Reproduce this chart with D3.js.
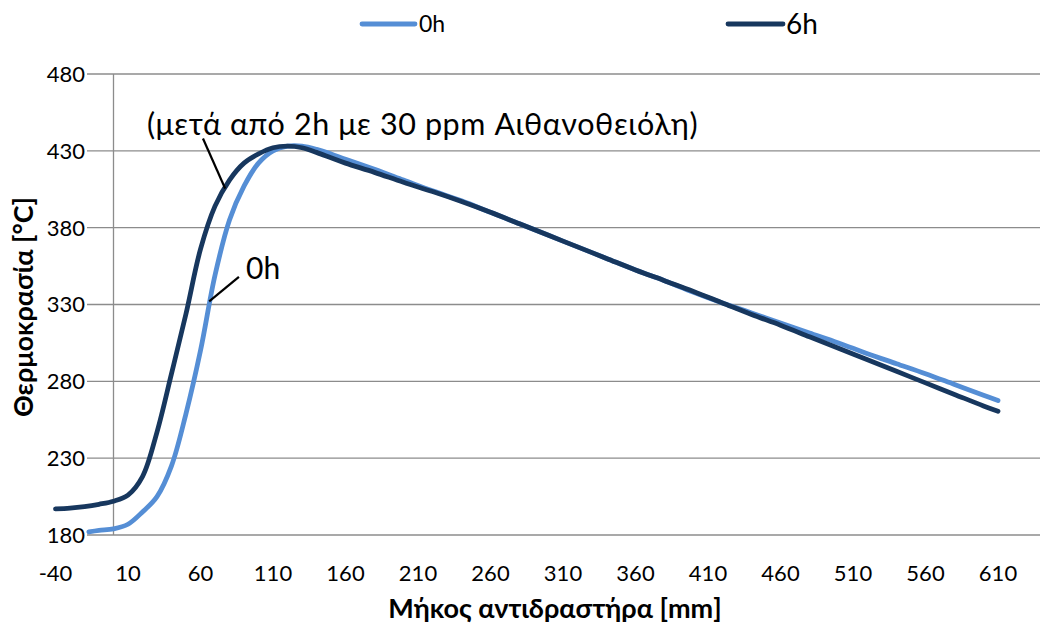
<!DOCTYPE html>
<html><head><meta charset="utf-8">
<script src="https://cdn.jsdelivr.net/npm/d3@7"></script>
<style>body{margin:0;background:#fff}svg{display:block}text{font-family:Lato,"Open Sans",sans-serif}</style>
</head><body><svg id="c" width="1041" height="626"></svg>
<script>
const xTicks = [-40,10,60,110,160,210,260,310,360,410,460,510,560,610];
const yTicks = [180,230,280,330,380,430,480];
const seriesNames = ["0h","6h"];
const x0h = [-17,-10,0,10,20,30,40,50,60,70,80,90,100,110,120,130,140,150,160,180,200,220,240,260,280,300,320,340,360,380,400,420,440,460,480,500,520,540,560,580,600,610];
const t0h = [182,183,184,187,195,205,225,259,300,349,385,407,422,430,433,433,431,428,424.5,418,411,404,397.5,390,382.5,375,367.5,360,352.5,345.5,338,331,324.5,318,311.5,305,298,291.5,285,278,271,267.5];
const x6h = [-40,-30,-20,-10,0,10,20,30,40,50,60,70,80,90,100,110,120,130,140,150,160,180,200,220,240,260,280,300,320,340,360,380,400,420,440,460,480,500,520,540,560,580,600,610];
const t6h = [197,197.5,198.5,200,202,206,218,247,285,324,366,394,411,422,428,432,433,432,429,425.5,422,416,409.5,403.5,397,390,382.5,375,367.5,360,352.5,345.5,338.5,331,323.5,316.5,309,301.5,294,286.5,279,271.5,264,260.5];
const annoText = ["(μετά από 2h με 30 ppm Αιθανοθειόλη)","0h"];
const xTitle = "Μήκος αντιδραστήρα [mm]";
const yTitle = "Θερμοκρασία [°C]";

const colors = ["#558ED5","#17375E"];
const svg = d3.select("#c");
const x = d3.scaleLinear().domain([-40,610]).range([55.5,998]);
const y = d3.scaleLinear().domain([180,480]).range([535,74]);
const gridL = 87, gridR = 1040;

// gridlines
svg.append("g").selectAll("line").data(yTicks).join("line")
  .attr("x1",gridL).attr("x2",gridR)
  .attr("y1",d=>y(d)).attr("y2",d=>y(d))
  .attr("stroke","#8c8c8c").attr("stroke-width",1.3);
// vertical axis at 0
svg.append("line").attr("x1",x(0)).attr("x2",x(0)).attr("y1",y(480)).attr("y2",y(180))
  .attr("stroke","#8c8c8c").attr("stroke-width",1.3);

// y tick labels
svg.append("g").selectAll("text").data(yTicks).join("text")
  .attr("x",85).attr("y",d=>y(d)).attr("dy","0.36em").attr("text-anchor","end")
  .attr("font-size",22).attr("fill","#000").text(d=>d);
// x tick labels
svg.append("g").selectAll("text").data(xTicks).join("text")
  .attr("x",d=>x(d)).attr("y",581).attr("text-anchor","middle")
  .attr("font-size",22).attr("fill","#000").text(d=>d);

// lines
const line = d3.line().x(d=>x(d[0])).y(d=>y(d[1])).curve(d3.curveCatmullRom.alpha(0.5));
const d0 = x0h.map((v,i)=>[v,t0h[i]]);
const d6 = x6h.map((v,i)=>[v,t6h[i]]);
svg.append("path").datum(d0).attr("d",line).attr("fill","none").attr("stroke",colors[0])
  .attr("stroke-width",4.8).attr("stroke-linecap","round").attr("stroke-linejoin","round");
svg.append("path").datum(d6).attr("d",line).attr("fill","none").attr("stroke",colors[1])
  .attr("stroke-width",4.8).attr("stroke-linecap","round").attr("stroke-linejoin","round");

// annotations (anchored in data coordinates)
svg.append("line").attr("x1",x(61.7)).attr("y1",y(438)).attr("x2",x(77)).attr("y2",y(405.5))
  .attr("stroke","#000").attr("stroke-width",2.2);
svg.append("text").attr("x",147).attr("y",135).attr("font-size",30.5).attr("letter-spacing",0.6).text(annoText[0]);
svg.append("line").attr("x1",x(86.5)).attr("y1",y(348)).attr("x2",x(66)).attr("y2",y(332))
  .attr("stroke","#000").attr("stroke-width",2.2);
svg.append("text").attr("x",246).attr("y",279).attr("font-size",30).text(annoText[1]);

// legend
const leg = [{x1:362,x2:415,tx:419,fs:23},{x1:728,x2:783,tx:786,fs:28}];
leg.forEach((l,i)=>{
  svg.append("line").attr("x1",l.x1).attr("x2",l.x2).attr("y1",24).attr("y2",24)
    .attr("stroke",colors[i]).attr("stroke-width",4.8).attr("stroke-linecap","round");
  svg.append("text").attr("x",l.tx).attr("y",24).attr("dy","0.36em").attr("font-size",l.fs).text(seriesNames[i]);
});

// axis titles
svg.append("text").attr("x",555).attr("y",618).attr("text-anchor","middle")
  .attr("font-size",27).attr("font-weight","bold").text(xTitle);
svg.append("text").attr("transform","translate(33,307) rotate(-90)").attr("text-anchor","middle")
  .attr("font-size",27).attr("font-weight","bold").text(yTitle);
</script></body></html>
